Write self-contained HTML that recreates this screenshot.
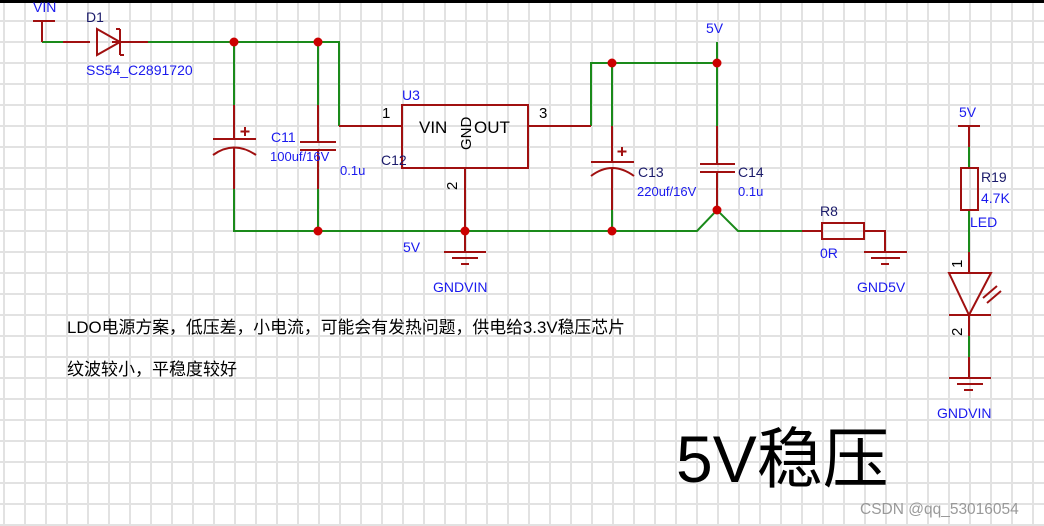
<!DOCTYPE html>
<html><head><meta charset="utf-8"><style>
html,body{margin:0;padding:0;background:#fff;}
svg{display:block;}
text{font-family:"Liberation Sans","Noto Sans CJK SC",sans-serif;}
</style></head><body>
<svg width="1044" height="526" viewBox="0 0 1044 526" xmlns="http://www.w3.org/2000/svg">
<defs>
<pattern id="g" x="3" y="-1" width="21" height="21" patternUnits="userSpaceOnUse">
<rect x="0" y="0" width="2" height="21" fill="#e2e2e2"/>
<rect x="0" y="0" width="21" height="2" fill="#e2e2e2"/>
</pattern>
</defs>
<rect width="1044" height="526" fill="url(#g)"/>
<rect width="1044" height="3" fill="#000"/>

<g fill="none" stroke-width="2">
<g stroke="#1a8a1a">
<path d="M42 42H63M140 42H339V126"/>
<path d="M234 42V105M234 189V231H697L717 210L738 231H802"/>
<path d="M318 42V105M318 189V231"/>
<path d="M591 126V63H717V126M612 63V126M612 210V231M717 63V42"/>
<path d="M969 147V168M969 210V252M969 336V357"/>
</g>
<g stroke="#a01010">
<path d="M33 21H55M42 21V42M63 42H90M112 42H148"/>
<path d="M97 29L120 42L97 55Z"/>
<path d="M120 29V55M120 29H116M120 55H124"/>
<path d="M339 126H402M528 126H591"/>
<rect x="402" y="105" width="126" height="63"/>
<path d="M465 168V252M444 252H486M452 258H478M461 264H469"/>
<path d="M234 105V139M213 139H256M213 155Q234 140 256 155M234 147V189"/>
<path d="M318 105V142M300 142H336M300 150H336M318 150V189"/>
<path d="M612 126V162M591 162H634M591 176Q612 160 634 176M612 168V210"/>
<path d="M717 126V164M700 164H735M700 172H735M717 172V210"/>
<path d="M802 231H822M864 231H885V252M864 252H907M871 258H900M881 264H889"/>
<rect x="822" y="223" width="42" height="16"/>
<path d="M958 126H980M969 126V147"/>
<rect x="961" y="168" width="17" height="42"/>
<path d="M969 252V273M949 273H991L969 315ZM949 315H991M969 315V336M969 357V378M949 378H991M957 384H983M964 390H973"/>
<path d="M983 298L997 286M987 303L1001 291"/>
<path d="M245 127V136M240.5 131.5H249.5M622 147V156M617.5 151.5H626.5"/>
</g>
</g>
<g fill="#cc0000">
<circle cx="234" cy="42" r="4.5"/><circle cx="318" cy="42" r="4.5"/>
<circle cx="318" cy="231" r="4.5"/><circle cx="465" cy="231" r="4.5"/>
<circle cx="612" cy="231" r="4.5"/><circle cx="612" cy="63" r="4.5"/>
<circle cx="717" cy="63" r="4.5"/><circle cx="717" cy="210" r="4.5"/>
</g>

<g fill="#1a1aee" font-size="14">
<text x="33" y="12">VIN</text>
<text x="86" y="75">SS54_C2891720</text>
<text x="271" y="142">C11</text>
<text x="270" y="161" font-size="13">100uf/16V</text>
<text x="340" y="175" font-size="13">0.1u</text>
<text x="402" y="100">U3</text>
<text x="403" y="252">5V</text>
<text x="433" y="292">GNDVIN</text>
<text x="706" y="33">5V</text>
<text x="637" y="196" font-size="13">220uf/16V</text>
<text x="738" y="196" font-size="13">0.1u</text>
<text x="820" y="258">0R</text>
<text x="857" y="292">GND5V</text>
<text x="959" y="117">5V</text>
<text x="981" y="203">4.7K</text>
<text x="970" y="227">LED</text>
<text x="937" y="418">GNDVIN</text>
</g>
<g fill="#1a1a6a" font-size="14">
<text x="86" y="22">D1</text>
<text x="381" y="165">C12</text>
<text x="638" y="177">C13</text>
<text x="738" y="177">C14</text>
<text x="820" y="216">R8</text>
<text x="981" y="182">R19</text>
</g>
<g fill="#000" font-size="15">
<text x="382" y="118">1</text>
<text x="539" y="118">3</text>
<text x="419" y="133" font-size="17">VIN</text>
<text x="474" y="133" font-size="17">OUT</text>
<text transform="translate(471,150) rotate(-90)" font-size="15">GND</text>
<text transform="translate(457,190) rotate(-90)">2</text>
<text transform="translate(962,268) rotate(-90)">1</text>
<text transform="translate(962,336) rotate(-90)">2</text>
<text x="67" y="333" font-size="17" textLength="558" lengthAdjust="spacingAndGlyphs">LDO电源方案，低压差，小电流，可能会有发热问题，供电给3.3V稳压芯片</text>
<text x="67" y="375" font-size="17">纹波较小，平稳度较好</text>
<text x="676" y="482" font-size="66">5V稳压</text>
</g>
<text x="860" y="514" font-size="15.5" fill="#999">CSDN @qq_53016054</text>
</svg>
</body></html>
